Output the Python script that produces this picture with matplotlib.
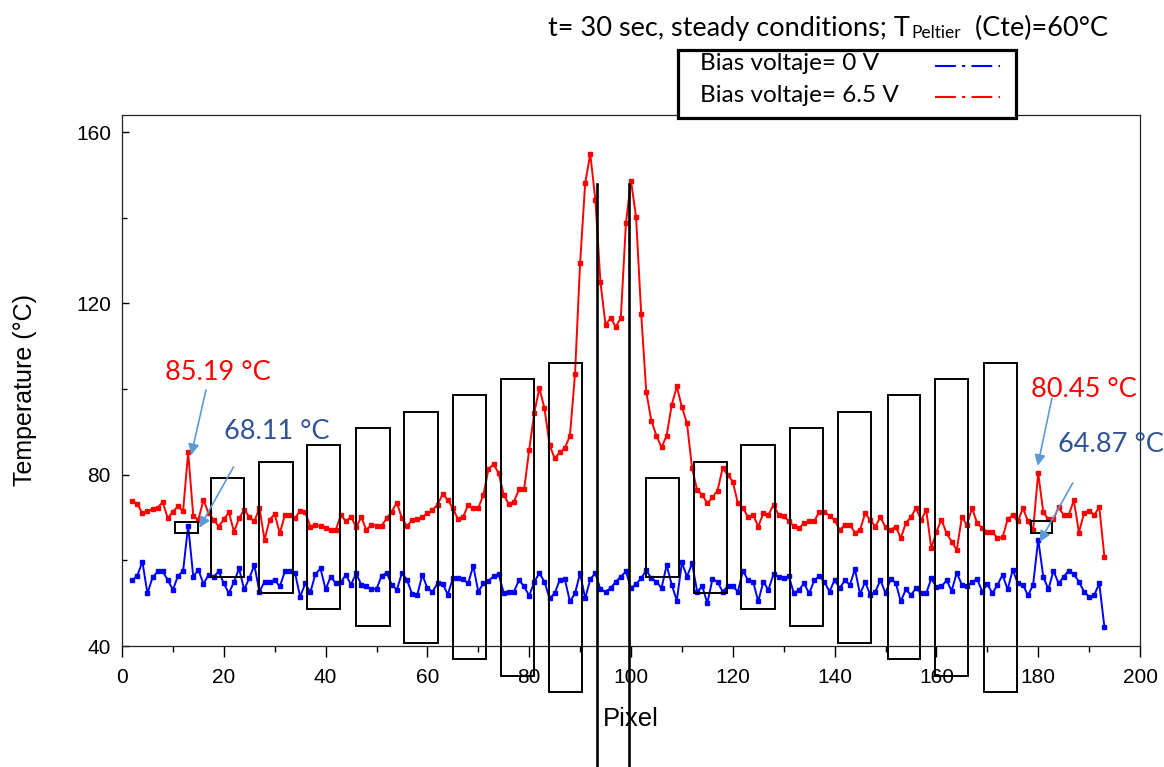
import numpy as np
import matplotlib.pyplot as plt
from matplotlib.patches import Rectangle
from matplotlib.lines import Line2D

# pixel index along the line profile
pixel = np.arange(2, 194)

# temperature (deg C), bias voltage 0 V
temp_0v = [
    55.4, 56.4, 59.7, 52.3, 56.0, 57.4, 57.4, 55.4, 53.1, 56.4,
    57.5, 68.11, 56.2, 57.8, 54.5, 56.6, 56.2, 57.4, 54.6, 52.3,
    55.0, 58.1, 53.2, 55.8, 58.9, 52.7, 55.0, 55.0, 55.4, 53.9,
    57.4, 57.4, 57.0, 51.5, 54.6, 52.5, 56.8, 58.1, 53.2, 56.2,
    54.6, 55.0, 56.6, 54.3, 57.0, 54.3, 53.9, 53.3, 53.3, 56.4,
    57.1, 54.3, 53.1, 57.1, 55.4, 52.1, 51.9, 56.6, 53.5, 52.7,
    54.6, 54.5, 52.0, 55.8, 55.8, 55.6, 54.6, 58.7, 52.7, 54.6,
    55.2, 56.3, 56.8, 52.3, 52.7, 52.7, 55.4, 53.9, 51.7, 55.0,
    57.0, 55.0, 51.1, 52.3, 55.4, 55.6, 50.4, 52.3, 57.0, 51.1,
    55.6, 57.0, 53.2, 52.7, 53.5, 55.0, 56.2, 57.4, 53.5, 54.5,
    55.8, 57.7, 55.8, 55.0, 53.5, 58.9, 54.3, 50.6, 59.5, 56.2,
    59.3, 52.7, 53.9, 50.0, 55.6, 55.0, 52.7, 53.9, 53.9, 52.7,
    57.6, 55.3, 55.0, 50.4, 55.0, 53.1, 56.8, 56.2, 55.8, 56.3,
    52.3, 53.1, 54.6, 52.3, 55.3, 56.3, 55.0, 52.7, 55.4, 53.5,
    55.3, 54.3, 57.9, 52.1, 55.0, 51.9, 52.7, 55.4, 52.3, 55.6,
    54.8, 50.4, 53.2, 51.9, 53.5, 52.3, 52.3, 55.8, 53.7, 53.9,
    55.3, 52.9, 57.1, 54.3, 53.9, 55.0, 55.6, 52.7, 54.5, 52.3,
    54.3, 56.6, 53.2, 57.8, 54.6, 54.3, 51.8, 54.3, 64.87, 56.2,
    53.2, 57.6, 54.6, 56.2, 57.6, 56.8, 55.0, 52.7, 51.5, 51.9,
    54.6, 44.5,
]

# temperature (deg C), bias voltage 6.5 V
temp_65v = [
    73.9, 73.2, 71.0, 71.5, 72.0, 72.3, 73.6, 69.8, 71.4, 72.6,
    71.5, 85.19, 70.4, 69.5, 74.1, 71.0, 69.5, 67.9, 69.6, 71.2,
    66.7, 69.8, 71.8, 70.2, 69.1, 72.2, 64.8, 69.5, 70.8, 66.3,
    70.6, 70.6, 69.8, 71.6, 71.2, 67.9, 68.3, 68.0, 67.5, 67.0,
    67.1, 70.6, 69.1, 70.2, 67.7, 70.1, 67.1, 68.3, 68.1, 68.1,
    69.8, 71.4, 73.5, 69.8, 68.0, 69.4, 69.6, 70.1, 71.0, 71.8,
    73.0, 75.5, 74.1, 72.2, 69.6, 70.1, 72.9, 72.2, 72.2, 75.3,
    81.3, 82.5, 80.3, 75.3, 73.1, 73.7, 76.6, 76.6, 85.8, 94.5,
    100.2, 95.5, 87.0, 83.8, 85.2, 86.2, 89.1, 103.5, 129.4, 148.1,
    154.9, 144.2, 124.9, 115.0, 116.6, 114.5, 116.6, 138.7, 148.7, 140.1,
    117.6, 99.3, 92.6, 89.1, 86.4, 89.1, 96.3, 100.6, 95.8, 92.0,
    81.5, 76.4, 75.3, 73.3, 74.7, 76.3, 81.5, 80.0, 78.4, 73.3,
    72.2, 70.1, 70.6, 67.9, 71.0, 70.6, 73.0, 70.6, 70.4, 69.1,
    68.0, 67.5, 68.7, 69.1, 69.1, 71.4, 71.4, 70.4, 69.4, 67.1,
    68.3, 68.3, 66.5, 67.1, 71.0, 69.4, 67.9, 70.1, 67.7, 67.1,
    67.9, 65.2, 68.7, 70.1, 72.2, 69.4, 71.8, 62.8, 66.7, 69.5,
    66.3, 64.4, 62.4, 70.1, 68.3, 72.2, 68.7, 67.5, 66.7, 66.7,
    65.2, 65.4, 69.6, 70.6, 69.1, 72.2, 69.1, 67.1, 80.45, 71.2,
    69.6, 69.6, 72.4, 70.6, 70.6, 74.0, 66.5, 71.0, 71.6, 70.6,
    72.4, 60.9,
]

# black boxes drawn over the plot: (x0, x1, y_bottom, y_top)
boxes = [
    (10.4, 15.0, 66.4, 69.0),
    (17.5, 24.0, 56.1, 79.25),
    (27.0, 33.5, 52.4, 83.0),
    (36.4, 42.9, 48.6, 87.0),
    (45.9, 52.6, 44.7, 90.9),
    (55.5, 62.0, 40.7, 94.7),
    (65.0, 71.5, 37.0, 98.6),
    (74.4, 80.9, 33.0, 102.4),
    (83.9, 90.4, 29.25, 106.1),
    (103.0, 109.4, 56.1, 79.25),
    (112.4, 118.9, 52.4, 83.0),
    (121.7, 128.3, 48.6, 87.0),
    (131.3, 137.8, 44.7, 90.9),
    (140.7, 147.2, 40.7, 94.7),
    (150.4, 156.7, 37.0, 98.6),
    (159.8, 166.3, 33.0, 102.4),
    (169.3, 175.8, 29.25, 106.1),
    (178.5, 182.7, 66.4, 69.2),
]
center_lines = [93.3, 99.6]

W, H = 1164, 767

def fx(px):
    return px / W

def fy(py):
    return 1 - py / H

fig = plt.figure(figsize=(W / 100, H / 100), dpi=100)
ax = fig.add_axes([fx(122), fy(646), (1140 - 122) / W, (646 - 115) / H])

ax.plot(pixel, temp_0v, color='#0000FF', lw=1.4, marker='s', ms=2.4, zorder=2)
ax.plot(pixel, temp_65v, color='#FF0000', lw=1.4, marker='s', ms=2.4, zorder=2)

ax.set_xlim(0, 200)
ax.set_ylim(40, 164)
ax.set_xticks(np.arange(0, 201, 20))
ax.set_xticks(np.arange(0, 201, 10), minor=True)
ax.set_yticks([40, 80, 120, 160])
ax.set_yticks(np.arange(40, 161, 20), minor=True)

tickfont = 'Liberation Sans'
ax.tick_params(axis='x', which='major', direction='out', length=8, width=1, pad=8, labelsize=15)
ax.tick_params(axis='x', which='minor', direction='out', length=4.5, width=1)
ax.tick_params(axis='y', which='major', direction='in', length=5, width=1, pad=8, labelsize=15)
ax.tick_params(axis='y', which='minor', direction='in', length=3.5, width=1)
for lab in ax.get_xticklabels() + ax.get_yticklabels():
    lab.set_fontfamily(tickfont)
for sp in ax.spines.values():
    sp.set_linewidth(0.9)
    sp.set_color('#222222')

ax.set_xlabel('Pixel', fontsize=18.5, fontfamily=tickfont)
ax.xaxis.set_label_coords(0.5, -(707 - 646) / 531)
ax.set_ylabel('Temperature (°C)', fontsize=18, fontfamily=tickfont)
ax.yaxis.set_label_coords(-(122 - 37) / 1018, (646 - 390) / 531)

# overlay boxes
for x0, x1, y0, y1 in boxes:
    ax.add_patch(Rectangle((x0, y0), x1 - x0, y1 - y0, fill=False,
                           edgecolor='black', lw=1.4, clip_on=False, zorder=3))
for xc in center_lines:
    ax.plot([xc, xc], [147.8, 0], color='black', lw=1.9, clip_on=False, zorder=3)

# peak annotations
arrow_c = '#5B9BD5'
dark_blue = '#2F5496'
annfont = 'Lato'
ax.text(18.9, 103.8, '85.19 °C', color='#FF0000', fontsize=19.5, fontfamily=annfont,
        ha='center', va='center')
ax.text(30.5, 90.0, '68.11 °C', color=dark_blue, fontsize=19.5, fontfamily=annfont,
        ha='center', va='center')
ax.text(189.0, 99.8, '80.45 °C', color='#FF0000', fontsize=19.5, fontfamily=annfont,
        ha='center', va='center', clip_on=False)
ax.text(183.8, 87.0, '64.87 °C', color=dark_blue, fontsize=19.5, fontfamily=annfont,
        ha='left', va='center', clip_on=False)

arrows = [((16.5, 99.8), (13.6, 84.6)),
          ((21.9, 81.8), (15.2, 67.6)),
          ((182.7, 97.9), (179.9, 82.1)),
          ((186.8, 78.1), (180.3, 64.3))]
for tail, head in arrows:
    ax.annotate('', xy=head, xytext=tail, annotation_clip=False,
                arrowprops=dict(arrowstyle='-|>', color=arrow_c, lw=1.2,
                                mutation_scale=16, shrinkA=0, shrinkB=0))

# title line at the top
t1 = fig.text(fx(548), fy(36), 't= 30 sec, steady conditions; T', fontsize=19.5,
              fontfamily=annfont, va='baseline', ha='left')
t2 = ax.annotate('Peltier', xy=(1, 0), xycoords=t1, xytext=(1, 0),
                 textcoords='offset points', fontsize=12.5, fontfamily=annfont,
                 va='bottom', ha='left')
ax.annotate('  (Cte)=60°C', xy=(1, 0), xycoords=t2, fontsize=19.5,
            fontfamily=annfont, va='bottom', ha='left')

# legend box
fig.patches.append(Rectangle((fx(678), fy(118)), (1016 - 678) / W, (118 - 50) / H,
                             transform=fig.transFigure, facecolor='white',
                             edgecolor='black', lw=2.3, zorder=5))
leg_labels = ['Bias voltaje= 0 V', 'Bias voltaje= 6.5 V']
leg_colors = ['#0000FF', '#FF0000']
leg_y = [64, 95]
for lab, col, yy in zip(leg_labels, leg_colors, leg_y):
    fig.text(fx(700), fy(yy), lab, fontsize=17.5, fontfamily=annfont,
             va='center', ha='left', zorder=6)
    fig.add_artist(Line2D([fx(935), fx(1000)], [fy(yy + 2), fy(yy + 2)],
                          transform=fig.transFigure, color=col, lw=1.5,
                          linestyle=(0, (10, 3, 1.5, 3)), zorder=6))

plt.savefig('out.png', dpi=100)
